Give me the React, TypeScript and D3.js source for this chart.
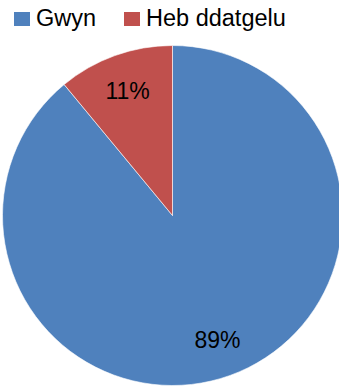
import React from "react";
import * as d3 from "d3";

const categories = ["Gwyn", "Heb ddatgelu"];
const values = [89, 11];
const colors = ["#4F81BD", "#C0504D"];

const W = 339;
const H = 387;
const cx = 172.5;
const cy = 215.5;
const R = 170;
const FONT = "'Liberation Sans', Arial, sans-serif";

export default function App() {
  const total = d3.sum(values);
  const pie = d3.pie<number>().sort(null).value((d) => d);
  const arcs = pie(values);
  const arc = d3.arc<d3.PieArcDatum<number>>().innerRadius(0).outerRadius(R);
  const labelArc = d3
    .arc<d3.PieArcDatum<number>>()
    .innerRadius(R * 0.78)
    .outerRadius(R * 0.78);

  const legendX = [14, 124];

  return (
    <svg
      width={W}
      height={H}
      style={{ position: "absolute", left: 0, top: 0, background: "#fff" }}
    >
      <g transform={`translate(${cx},${cy})`}>
        {arcs.map((a, i) => (
          <path
            key={i}
            d={arc(a) || ""}
            fill={colors[i]}
            stroke="#ffffff"
            strokeWidth={0.6}
          />
        ))}
        {arcs.map((a, i) => {
          const [x, y] = labelArc.centroid(a);
          return (
            <text
              key={i}
              x={x}
              y={y}
              textAnchor="middle"
              dominantBaseline="central"
              fontFamily={FONT}
              fontSize={23}
              fill="#000"
            >
              {Math.round((values[i] / total) * 100)}%
            </text>
          );
        })}
      </g>
      <g>
        {categories.map((c, i) => (
          <g key={c} transform={`translate(${legendX[i]},0)`}>
            <rect x={0} y={12} width={16} height={14} fill={colors[i]} />
            <text
              x={22}
              y={26}
              fontFamily={FONT}
              fontSize={23.5}
              fill="#000"
            >
              {c}
            </text>
          </g>
        ))}
      </g>
    </svg>
  );
}
